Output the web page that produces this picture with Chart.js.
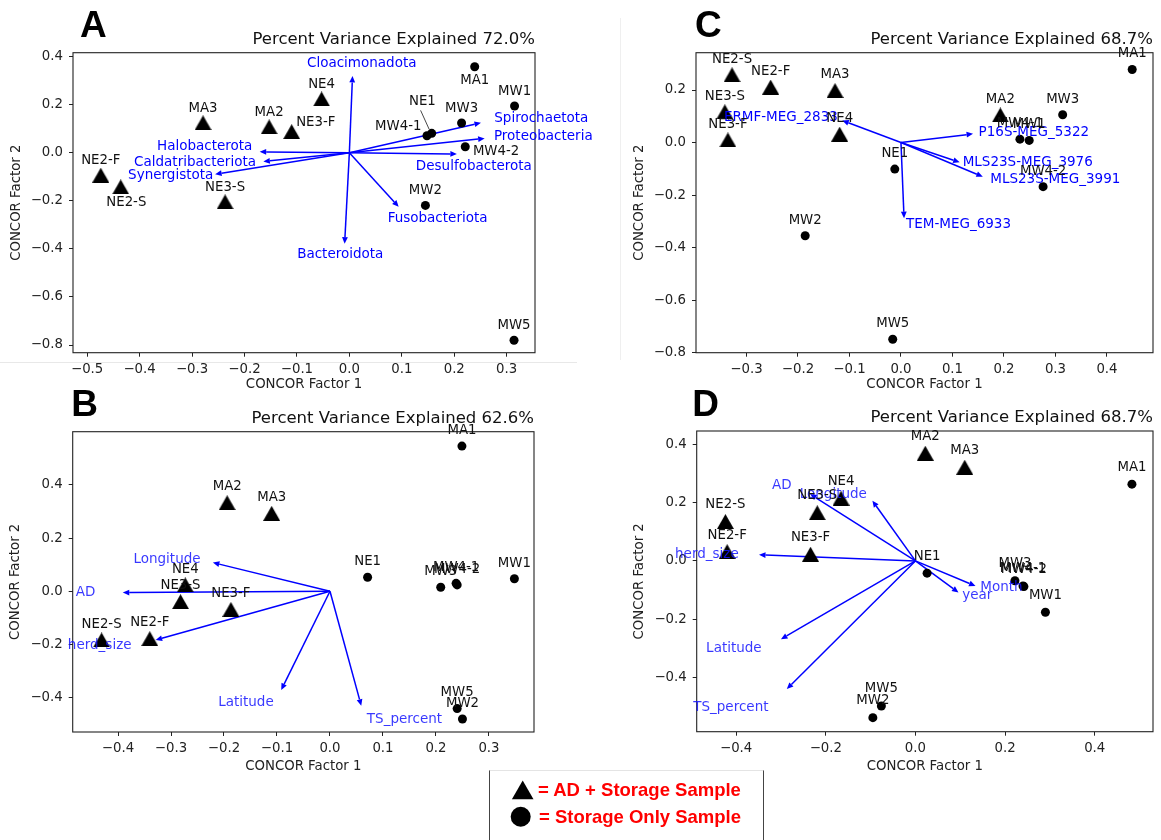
<!DOCTYPE html>
<html>
<head>
<meta charset="utf-8">
<script src="https://cdn.jsdelivr.net/npm/chart.js@4/dist/chart.umd.min.js"></script>
<style>
html,body{margin:0;padding:0;background:#fff;}
body{width:1161px;height:840px;position:relative;overflow:hidden;font-family:"DejaVu Sans",sans-serif;}
canvas{position:absolute;}
.faint{position:absolute;background:#e8e8e8;}
#legend{position:absolute;left:489px;top:770px;width:275px;height:71px;box-sizing:border-box;border-left:1px solid #444;border-right:1px solid #444;border-top:1px solid #e4e4e4;}
.legtext{position:absolute;font-family:"Liberation Sans",Arial,sans-serif;font-weight:bold;font-size:18.5px;line-height:18.5px;color:#ff0000;white-space:nowrap;}
</style>
</head>
<body>
<div class="faint" style="left:0;top:362px;width:577px;height:1px;"></div>
<div class="faint" style="left:620px;top:18px;width:1px;height:342px;background:#efefef;"></div>
<div id="legend"></div>
<svg style="position:absolute;left:505px;top:775px" width="40" height="55">
  <polygon points="17.7,5.5 28.5,24.2 6.9,24.2" fill="#000"/>
  <circle cx="15.7" cy="41.7" r="10" fill="#000"/>
</svg>
<div class="legtext" style="left:538px;top:781px;">= AD + Storage Sample</div>
<div class="legtext" style="left:539px;top:808px;">= Storage Only Sample</div>

<script>
// ---------------- DATA ----------------
const AD_SAMPLES = ['MA2','MA3','NE2-F','NE2-S','NE3-F','NE3-S','NE4'];

// Panel A – phyla
const samplesA = ['MA1','MW1','MW3','NE1','MW4-1','MW4-2','MW2','MW5','NE4','MA3','MA2','NE3-F','NE2-F','NE2-S','NE3-S'];
const factor1A = [0.239, 0.315, 0.214, 0.157, 0.148, 0.221, 0.145, 0.314, -0.053, -0.279, -0.153, -0.110, -0.474, -0.436, -0.237];
const factor2A = [0.358, 0.195, 0.124, 0.081, 0.071, 0.025, -0.219, -0.780, 0.224, 0.125, 0.108, 0.088, -0.093, -0.142, -0.204];
const loadNamesA = ['Cloacimonadota','Bacteroidota','Halobacterota','Caldatribacteriota','Synergistota','Spirochaetota','Proteobacteria','Desulfobacterota','Fusobacteriota'];
const loadF1A = [0.006, -0.009, -0.171, -0.164, -0.256, 0.251, 0.258, 0.205, 0.094];
const loadF2A = [0.320, -0.378, 0.004, -0.036, -0.089, 0.125, 0.060, -0.005, -0.225];
const xTicksA = [-0.5, -0.4, -0.3, -0.2, -0.1, 0.0, 0.1, 0.2, 0.3];
const yTicksA = [-0.8, -0.6, -0.4, -0.2, 0.0, 0.2, 0.4];
const varianceA = '72.0%';

// Panel B – metadata vs phyla
const samplesB = ['MA1','MA2','MA3','NE1','MW3','MW4-1','MW4-2','MW1','MW5','MW2','NE4','NE3-S','NE3-F','NE2-F','NE2-S'];
const factor1B = [0.249, -0.194, -0.110, 0.071, 0.209, 0.238, 0.240, 0.348, 0.240, 0.250, -0.273, -0.282, -0.187, -0.340, -0.431];
const factor2B = [0.546, 0.333, 0.293, 0.053, 0.015, 0.030, 0.024, 0.047, -0.441, -0.480, 0.024, -0.039, -0.068, -0.178, -0.183];
const loadNamesB = ['Longitude','AD','herd_size','Latitude','TS_percent'];
const loadF1B = [-0.221, -0.391, -0.329, -0.092, 0.059];
const loadF2B = [0.108, -0.005, -0.183, -0.371, -0.430];
const xTicksB = [-0.4, -0.3, -0.2, -0.1, 0.0, 0.1, 0.2, 0.3];
const yTicksB = [-0.4, -0.2, 0.0, 0.2, 0.4];
const varianceB = '62.6%';

// Panel C – resistance genes
const samplesC = ['MA1','MW3','MW4-1','MW1','MW4-2','NE1','MW2','MW5','NE2-S','NE2-F','MA3','NE3-S','NE3-F','NE4','MA2'];
const factor1C = [0.449, 0.314, 0.231, 0.249, 0.276, -0.012, -0.186, -0.016, -0.328, -0.253, -0.128, -0.342, -0.336, -0.119, 0.193];
const factor2C = [0.278, 0.106, 0.013, 0.008, -0.168, -0.101, -0.355, -0.749, 0.258, 0.211, 0.198, 0.117, 0.010, 0.032, 0.105];
const loadNamesC = ['ERMF-MEG_2833','P16S-MEG_5322','MLS23S-MEG_3976','MLS23S-MEG_3991','TEM-MEG_6933'];
const loadF1C = [-0.114, 0.140, 0.114, 0.159, 0.006];
const loadF2C = [0.084, 0.033, -0.075, -0.130, -0.288];
const xTicksC = [-0.3, -0.2, -0.1, 0.0, 0.1, 0.2, 0.3, 0.4];
const yTicksC = [-0.8, -0.6, -0.4, -0.2, 0.0, 0.2];
const varianceC = '68.7%';

// Panel D – metadata vs resistance genes
const samplesD = ['MA2','MA3','MA1','NE4','NE3-S','NE2-S','NE2-F','NE3-F','NE1','MW3','MW4-1','MW4-2','MW1','MW5','MW2'];
const factor1D = [0.022, 0.110, 0.483, -0.166, -0.219, -0.424, -0.420, -0.234, 0.026, 0.222, 0.240, 0.242, 0.290, -0.076, -0.095];
const factor2D = [0.369, 0.321, 0.263, 0.215, 0.165, 0.135, 0.032, 0.023, -0.042, -0.068, -0.086, -0.088, -0.176, -0.497, -0.537];
const loadNamesD = ['AD','Longitude','herd_size','Latitude','TS_percent','Month','year'];
const loadF1D = [-0.235, -0.096, -0.349, -0.300, -0.287, 0.134, 0.096];
const loadF2D = [0.229, 0.206, 0.021, -0.268, -0.439, -0.086, -0.108];
const xTicksD = [-0.4, -0.2, 0.0, 0.2, 0.4];
const yTicksD = [-0.4, -0.2, 0.0, 0.2, 0.4];
const varianceD = '68.7%';

// ---------------- LAYOUT / STYLE ----------------
const panels = [
  { letter:'A', letterDx:7, names:samplesA, f1:factor1A, f2:factor2A, lnames:loadNamesA, l1:loadF1A, l2:loadF2A,
    xTicks:xTicksA, yTicks:yTicksA, variance:varianceA,
    canvas:[0,0,640,400], area:[73,52.7,535,352.7], yTitleX:17, xTitleY:385,
    xRange:[-0.527,0.354], yRange:[-0.832,0.4167], textColor:'#0000ff',
    defOff:[0,-14.5],
    ptOff:{'MA1':[0,13.3],'NE1':[-9.3,-31.6],'MW4-1':[-28.7,-9],'MW4-2':[30.8,5],'NE3-F':[24.1,-9.4],'NE2-S':[5.6,16]},
    leaders:{'NE1':[[-11.1,-23],[-2.5,-4]]},
    ldOff:{'Cloacimonadota':[9.2,-12,'center'],'Bacteroidota':[-4.4,10.7,'center'],'Halobacterota':[-7.3,-5,'right'],
           'Caldatribacteriota':[-7.4,0.7,'right'],'Synergistota':[-1.8,1,'right'],'Spirochaetota':[13.3,-4,'left'],
           'Proteobacteria':[9.3,-1.6,'left'],'Desulfobacterota':[17,12.7,'center'],'Fusobacteriota':[-11,11.6,'left']} },
  { letter:'B', letterDx:-1.4, names:samplesB, f1:factor1B, f2:factor2B, lnames:loadNamesB, l1:loadF1B, l2:loadF2B,
    xTicks:xTicksB, yTicks:yTicksB, variance:varianceB,
    canvas:[0,380,580,400], area:[72.7,431.7,534,732], yTitleX:15.6, xTitleY:766.7,
    xRange:[-0.4855,0.385], yRange:[-0.529,0.6], textColor:'rgba(20,20,255,0.85)',
    defOff:[0,-15.7], ptOff:{}, leaders:{},
    ldOff:{'Longitude':[-12.3,-2.7,'right'],'AD':[-27.5,-0.4,'right'],'herd_size':[-24.1,6,'right'],
           'Latitude':[-7.5,12.3,'right'],'TS_percent':[5.6,13.6,'left']} },
  { letter:'C', letterDx:-1, names:samplesC, f1:factor1C, f2:factor2C, lnames:loadNamesC, l1:loadF1C, l2:loadF2C,
    xTicks:xTicksC, yTicks:yTicksC, variance:varianceC,
    canvas:[580,0,581,400], area:[696,52.7,1158,352.7], yTitleX:639.3, xTitleY:385,
    xRange:[-0.398,0.4894], yRange:[-0.8,0.342], textColor:'#0000ff',
    defOff:[0,-15.5], ptOff:{}, leaders:{},
    ldOff:{'ERMF-MEG_2833':[-4.4,-3.4,'right'],'P16S-MEG_5322':[5.5,-1.3,'left'],'MLS23S-MEG_3976':[3,0.7,'left'],
           'MLS23S-MEG_3991':[7.4,3.3,'left'],'TEM-MEG_6933':[1.9,6.7,'left']} },
  { letter:'D', letterDx:-4.4, names:samplesD, f1:factor1D, f2:factor2D, lnames:loadNamesD, l1:loadF1D, l2:loadF2D,
    xTicks:xTicksD, yTicks:yTicksD, variance:varianceD,
    canvas:[580,380,581,400], area:[696.7,431,1158.5,731.7], yTitleX:639.3, xTitleY:766.7,
    xRange:[-0.488,0.530], yRange:[-0.585,0.445], textColor:'rgba(20,20,255,0.85)',
    defOff:[0,-17], ptOff:{'NE2-F':[0,-16]}, leaders:{},
    ldOff:{'AD':[-18.5,-9,'right'],'Longitude':[-5.5,-6,'right'],'herd_size':[-20.3,-0.7,'right'],
           'Latitude':[-19.3,9.4,'right'],'TS_percent':[-18.3,18.4,'right'],'Month':[4.8,1.3,'left'],'year':[3.7,3,'left']} }
];

const FONT = '"DejaVu Sans"';
Chart.defaults.font.family = FONT;

const fmt = v => (Math.abs(v) < 1e-9 ? 0 : v).toFixed(1).replace('-', '\u2212');

function triangleImage() {
  const c = document.createElement('canvas');
  c.width = 17; c.height = 15;
  const g = c.getContext('2d');
  g.fillStyle = '#000';
  g.beginPath(); g.moveTo(8.5, 0); g.lineTo(17, 15); g.lineTo(0, 15); g.closePath(); g.fill();
  return c;
}
const TRI = triangleImage();

function drawArrow(ctx, x0, y0, x1, y1, color) {
  const dx = x1 - x0, dy = y1 - y0, len = Math.hypot(dx, dy);
  if (len < 1) return;
  const ux = dx / len, uy = dy / len, hl = 6.5, hw = 2.9;
  const bx = x1 - ux * hl, by = y1 - uy * hl;
  ctx.strokeStyle = color; ctx.lineWidth = 1.5;
  ctx.beginPath(); ctx.moveTo(x0, y0); ctx.lineTo(bx, by); ctx.stroke();
  ctx.fillStyle = color;
  ctx.beginPath(); ctx.moveTo(x1, y1);
  ctx.lineTo(bx - uy * hw, by + ux * hw); ctx.lineTo(bx + uy * hw, by - ux * hw);
  ctx.closePath(); ctx.fill();
}

function panelPlugin(p) {
  return {
    id: 'panel' + p.letter,
    beforeDatasetsDraw(chart) {
      const { ctx, scales: { x, y } } = chart;
      ctx.save();
      const x0 = x.getPixelForValue(0), y0 = y.getPixelForValue(0);
      p.lnames.forEach((n, i) => drawArrow(ctx, x0, y0, x.getPixelForValue(p.l1[i]), y.getPixelForValue(p.l2[i]), '#0000ff'));
      ctx.restore();
    },
    afterDatasetsDraw(chart) {
      const { ctx, chartArea: a, scales: { x, y } } = chart;
      ctx.save();
      // frame (all four spines)
      ctx.strokeStyle = '#222'; ctx.lineWidth = 1.1;
      ctx.strokeRect(a.left, a.top, a.right - a.left, a.bottom - a.top);
      // leader lines
      Object.entries(p.leaders).forEach(([n, seg]) => {
        const i = p.names.indexOf(n);
        const px = x.getPixelForValue(p.f1[i]), py = y.getPixelForValue(p.f2[i]);
        ctx.strokeStyle = '#333'; ctx.lineWidth = 0.9;
        ctx.beginPath(); ctx.moveTo(px + seg[0][0], py + seg[0][1]); ctx.lineTo(px + seg[1][0], py + seg[1][1]); ctx.stroke();
      });
      // loading labels
      ctx.font = '13.5px ' + FONT; ctx.textBaseline = 'middle'; ctx.fillStyle = p.textColor;
      p.lnames.forEach((n, i) => {
        const o = p.ldOff[n] || [0, 0, 'center'];
        ctx.textAlign = o[2];
        ctx.fillText(n, x.getPixelForValue(p.l1[i]) + o[0], y.getPixelForValue(p.l2[i]) + o[1]);
      });
      // sample labels
      ctx.font = '13.3px ' + FONT; ctx.fillStyle = '#111'; ctx.textAlign = 'center';
      p.names.forEach((n, i) => {
        const o = p.ptOff[n] || p.defOff;
        ctx.fillText(n, x.getPixelForValue(p.f1[i]) + o[0], y.getPixelForValue(p.f2[i]) + o[1]);
      });
      // title
      ctx.font = '16.5px ' + FONT; ctx.textAlign = 'right'; ctx.fillStyle = '#111';
      ctx.fillText('Percent Variance Explained ' + p.variance, a.right, a.top - 13.4);
      // panel letter
      ctx.font = 'bold 37px "Liberation Sans"'; ctx.textAlign = 'left'; ctx.textBaseline = 'alphabetic'; ctx.fillStyle = '#000';
      ctx.fillText(p.letter, a.left + p.letterDx, a.top - 15.5);
      ctx.restore();
    }
  };
}

function makeChart(p) {
  const [cl, ct, cw, ch] = p.canvas;
  const cv = document.createElement('canvas');
  cv.width = cw; cv.height = ch;
  cv.style.left = cl + 'px'; cv.style.top = ct + 'px';
  cv.style.width = cw + 'px'; cv.style.height = ch + 'px';
  document.body.insertBefore(cv, document.getElementById('legend'));
  const L = p.area[0] - cl, T = p.area[1] - ct, R = p.area[2] - cl, B = p.area[3] - ct;
  const yScaleLeft = p.yTitleX - cl - 8;
  const xScaleBottom = p.xTitleY - ct + 8;
  const tri = [], cir = [];
  p.names.forEach((n, i) => {
    const pt = { x: p.f1[i], y: p.f2[i] };
    (AD_SAMPLES.includes(n) ? tri : cir).push(pt);
  });
  const axisCommon = {
    type: 'linear',
    grid: { drawOnChartArea: false, drawTicks: true, tickLength: 4, color: '#222', lineWidth: 1 },
    border: { display: false },
  };
  new Chart(cv, {
    type: 'scatter',
    data: { datasets: [
      { data: cir, pointStyle: 'circle', pointRadius: 4.5, backgroundColor: '#000', borderColor: '#000', borderWidth: 0, clip: false },
      { data: tri, pointStyle: TRI, pointRadius: 8, backgroundColor: '#000', borderWidth: 0, clip: false }
    ] },
    options: {
      responsive: false, animation: false, devicePixelRatio: 1,
      layout: { padding: { left: yScaleLeft, top: T, right: cw - R, bottom: ch - xScaleBottom } },
      plugins: { legend: { display: false }, tooltip: { enabled: false } },
      scales: {
        x: Object.assign({}, axisCommon, {
          position: 'bottom', min: p.xRange[0], max: p.xRange[1],
          afterBuildTicks: s => { s.ticks = p.xTicks.map(v => ({ value: v })); },
          afterFit: s => { s.height = xScaleBottom - B; },
          ticks: { callback: v => fmt(v), font: { size: 13.3 }, color: '#222', padding: 5, maxRotation: 0, autoSkip: false },
          title: { display: true, text: 'CONCOR Factor 1', font: { size: 13.3 }, color: '#222', padding: 0 }
        }),
        y: Object.assign({}, axisCommon, {
          position: 'left', min: p.yRange[0], max: p.yRange[1],
          afterBuildTicks: s => { s.ticks = p.yTicks.map(v => ({ value: v })); },
          afterFit: s => { s.width = L - yScaleLeft; },
          ticks: { callback: v => fmt(v), font: { size: 13.3 }, color: '#222', padding: 6, autoSkip: false },
          title: { display: true, text: 'CONCOR Factor 2', font: { size: 13.3 }, color: '#222', padding: 0 }
        })
      }
    },
    plugins: [panelPlugin(p)]
  });
}

panels.forEach(makeChart);
</script>
</body>
</html>
